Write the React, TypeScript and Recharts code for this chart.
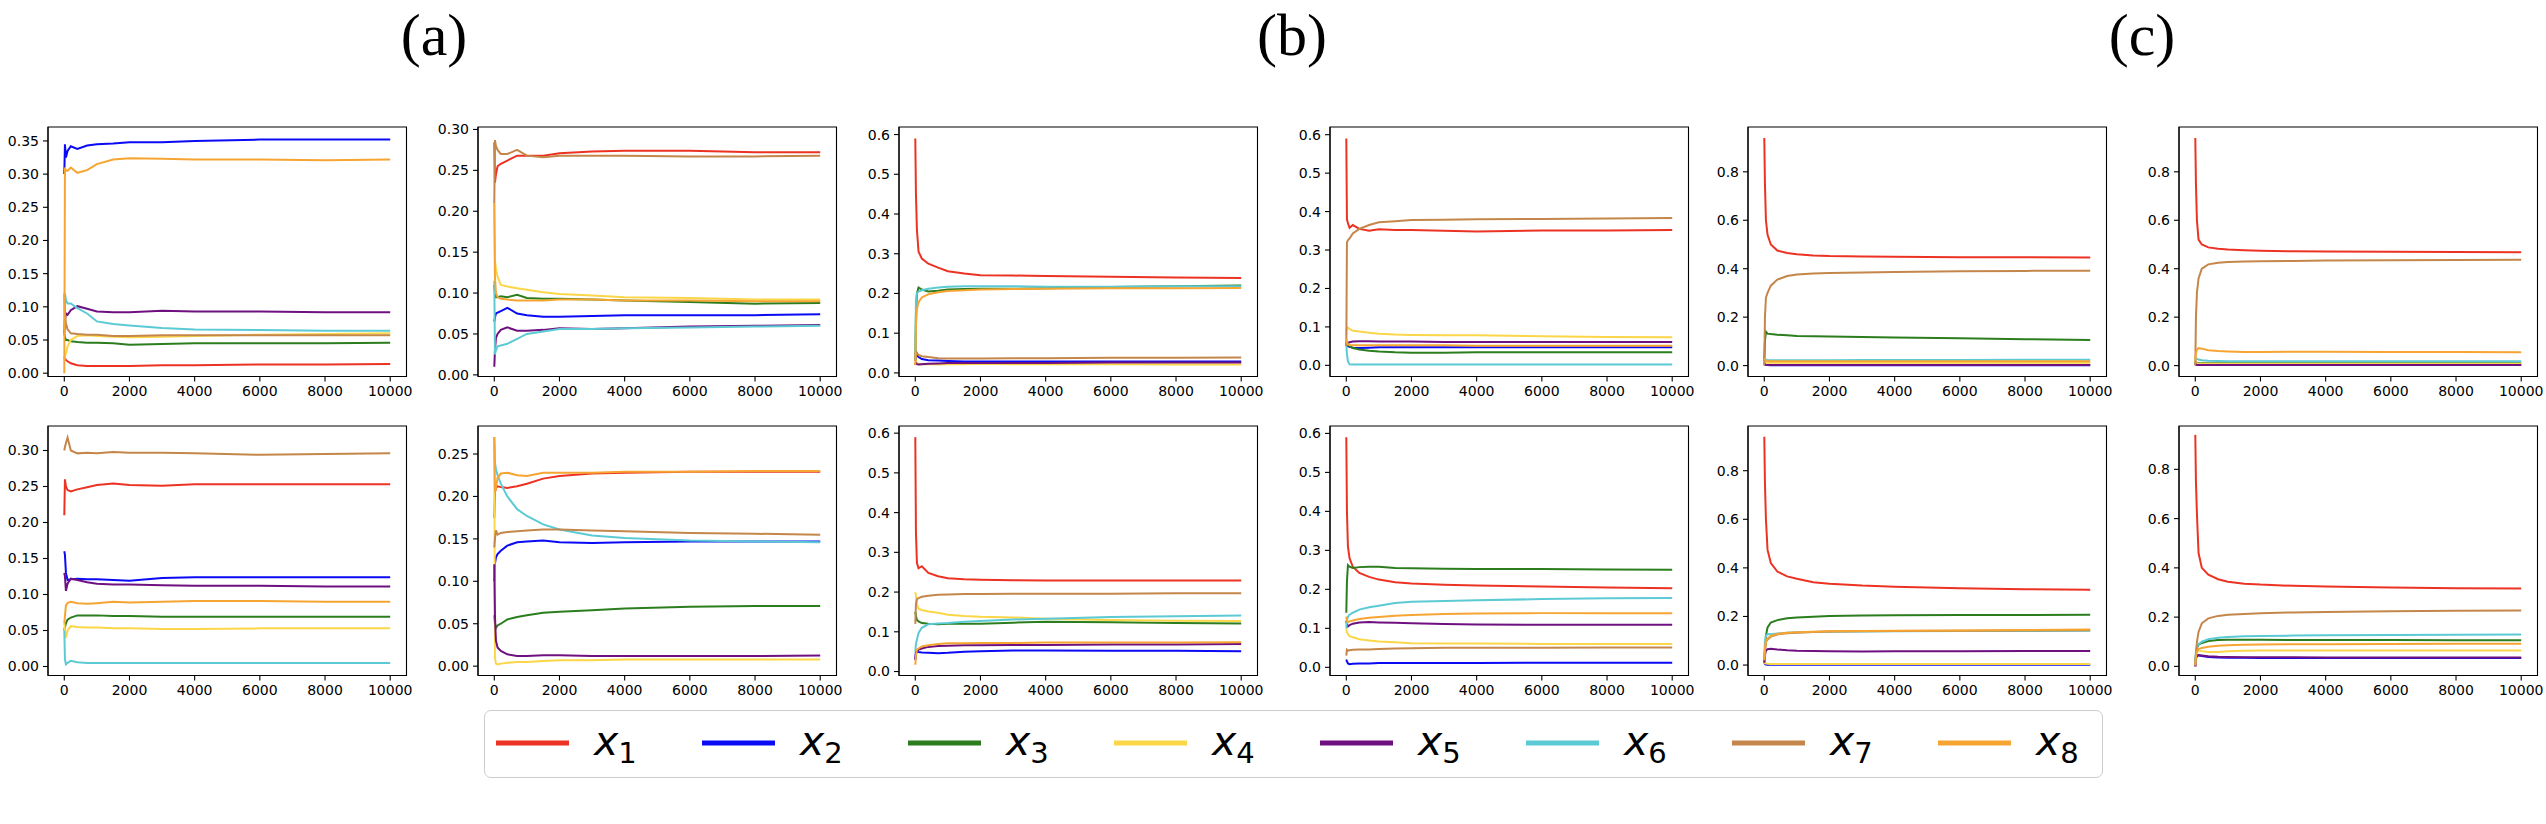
import React from 'react';
import { LineChart, Line, XAxis, YAxis, ReferenceArea } from 'recharts';

// iteration grid shared by every panel
const ITER = [0, 20, 50, 100, 200, 400, 700, 1000, 1500, 2000, 3000, 4000, 6000, 8000, 10000];
const X_TICKS = [0, 2000, 4000, 6000, 8000, 10000];

const SERIES_NAMES = ['x1', 'x2', 'x3', 'x4', 'x5', 'x6', 'x7', 'x8'];
const SUBSCRIPTS = ['1', '2', '3', '4', '5', '6', '7', '8'];
const COLORS = ['#ec3323', '#0a0af5', '#2b7d1e', '#fbd649', '#6e1080', '#5ccad4', '#c4864a', '#f6a533'];

const TICKS_035 = [0, 0.05, 0.1, 0.15, 0.2, 0.25, 0.3, 0.35];
const TICKS_030 = [0, 0.05, 0.1, 0.15, 0.2, 0.25, 0.3];
const TICKS_025 = [0, 0.05, 0.1, 0.15, 0.2, 0.25];
const TICKS_06 = [0, 0.1, 0.2, 0.3, 0.4, 0.5, 0.6];
const TICKS_08 = [0, 0.2, 0.4, 0.6, 0.8];

const TITLES = ['(a)', '(b)', '(c)'];

// ---- row 1 ----
const A1 = [
  [0.025, 0.022, 0.020, 0.018, 0.015, 0.012, 0.011, 0.011, 0.011, 0.011, 0.012, 0.012, 0.013, 0.013, 0.014],
  [0.300, 0.345, 0.325, 0.335, 0.342, 0.338, 0.343, 0.345, 0.346, 0.348, 0.348, 0.350, 0.352, 0.352, 0.352],
  [0.060, 0.055, 0.050, 0.050, 0.048, 0.047, 0.046, 0.046, 0.045, 0.043, 0.044, 0.045, 0.045, 0.045, 0.046],
  [0.020, 0.025, 0.030, 0.040, 0.050, 0.056, 0.057, 0.056, 0.055, 0.054, 0.055, 0.056, 0.058, 0.059, 0.060],
  [0.060, 0.080, 0.090, 0.088, 0.095, 0.101, 0.097, 0.093, 0.092, 0.092, 0.094, 0.093, 0.093, 0.092, 0.092],
  [0.070, 0.120, 0.110, 0.105, 0.105, 0.098, 0.090, 0.078, 0.074, 0.072, 0.068, 0.066, 0.065, 0.064, 0.064],
  [0.120, 0.090, 0.075, 0.066, 0.060, 0.059, 0.058, 0.058, 0.056, 0.056, 0.057, 0.057, 0.057, 0.057, 0.057],
  [0.000, 0.310, 0.305, 0.305, 0.310, 0.302, 0.306, 0.315, 0.322, 0.324, 0.323, 0.322, 0.322, 0.321, 0.322],
];

const A2 = [
  [0.284, 0.235, 0.245, 0.255, 0.258, 0.262, 0.268, 0.268, 0.268, 0.271, 0.273, 0.274, 0.274, 0.272, 0.272],
  [0.065, 0.070, 0.075, 0.076, 0.078, 0.082, 0.075, 0.073, 0.071, 0.071, 0.072, 0.073, 0.073, 0.073, 0.074],
  [0.110, 0.100, 0.095, 0.095, 0.096, 0.095, 0.098, 0.094, 0.093, 0.093, 0.092, 0.091, 0.089, 0.087, 0.088],
  [0.210, 0.140, 0.130, 0.120, 0.110, 0.108, 0.106, 0.104, 0.101, 0.099, 0.097, 0.095, 0.094, 0.092, 0.092],
  [0.010, 0.030, 0.045, 0.050, 0.055, 0.058, 0.054, 0.054, 0.055, 0.057, 0.056, 0.057, 0.059, 0.060, 0.061],
  [0.115, 0.025, 0.030, 0.035, 0.036, 0.038, 0.044, 0.050, 0.053, 0.056, 0.056, 0.057, 0.058, 0.059, 0.060],
  [0.210, 0.287, 0.280, 0.275, 0.270, 0.270, 0.275, 0.268, 0.266, 0.268, 0.268, 0.268, 0.267, 0.267, 0.268],
  [0.210, 0.120, 0.100, 0.095, 0.093, 0.092, 0.091, 0.091, 0.091, 0.092, 0.092, 0.091, 0.091, 0.090, 0.090],
];

const B1 = [
  [0.590, 0.450, 0.360, 0.305, 0.288, 0.275, 0.265, 0.256, 0.250, 0.246, 0.245, 0.244, 0.242, 0.240, 0.239],
  [0.030, 0.055, 0.045, 0.040, 0.035, 0.032, 0.031, 0.030, 0.029, 0.029, 0.029, 0.029, 0.029, 0.029, 0.029],
  [0.030, 0.150, 0.200, 0.215, 0.210, 0.205, 0.207, 0.210, 0.211, 0.212, 0.212, 0.213, 0.216, 0.218, 0.220],
  [0.020, 0.030, 0.025, 0.023, 0.022, 0.022, 0.021, 0.022, 0.022, 0.023, 0.022, 0.022, 0.022, 0.021, 0.021],
  [0.020, 0.025, 0.022, 0.021, 0.022, 0.023, 0.024, 0.025, 0.025, 0.025, 0.025, 0.025, 0.026, 0.026, 0.026],
  [0.030, 0.180, 0.200, 0.205, 0.208, 0.212, 0.215, 0.217, 0.218, 0.218, 0.218, 0.217, 0.217, 0.218, 0.218],
  [0.030, 0.045, 0.050, 0.045, 0.042, 0.040, 0.037, 0.036, 0.036, 0.036, 0.037, 0.037, 0.038, 0.038, 0.039],
  [0.020, 0.120, 0.160, 0.178, 0.190, 0.198, 0.203, 0.206, 0.208, 0.210, 0.211, 0.212, 0.213, 0.213, 0.214],
];

const B2 = [
  [0.590, 0.380, 0.370, 0.358, 0.365, 0.355, 0.350, 0.354, 0.352, 0.352, 0.350, 0.348, 0.351, 0.351, 0.352],
  [0.060, 0.055, 0.050, 0.048, 0.046, 0.045, 0.046, 0.047, 0.047, 0.047, 0.047, 0.047, 0.047, 0.047, 0.047],
  [0.050, 0.060, 0.055, 0.050, 0.045, 0.041, 0.038, 0.036, 0.034, 0.033, 0.033, 0.034, 0.034, 0.034, 0.034],
  [0.080, 0.100, 0.098, 0.095, 0.090, 0.088, 0.085, 0.082, 0.080, 0.079, 0.078, 0.078, 0.076, 0.074, 0.073],
  [0.050, 0.055, 0.058, 0.060, 0.062, 0.063, 0.063, 0.062, 0.062, 0.062, 0.061, 0.061, 0.061, 0.061, 0.061],
  [0.055, 0.030, 0.010, 0.003, 0.002, 0.002, 0.002, 0.002, 0.002, 0.002, 0.002, 0.002, 0.002, 0.002, 0.002],
  [0.050, 0.320, 0.325, 0.330, 0.343, 0.355, 0.365, 0.372, 0.375, 0.378, 0.379, 0.380, 0.381, 0.382, 0.383],
  [0.070, 0.060, 0.055, 0.053, 0.052, 0.052, 0.052, 0.052, 0.052, 0.052, 0.052, 0.051, 0.051, 0.051, 0.051],
];

const C1 = [
  [0.940, 0.750, 0.600, 0.540, 0.500, 0.475, 0.465, 0.460, 0.455, 0.452, 0.450, 0.449, 0.447, 0.447, 0.446],
  [0.010, 0.005, 0.003, 0.002, 0.001, 0.001, 0.001, 0.001, 0.001, 0.001, 0.001, 0.001, 0.001, 0.001, 0.001],
  [0.020, 0.100, 0.140, 0.132, 0.130, 0.127, 0.125, 0.122, 0.121, 0.120, 0.118, 0.116, 0.113, 0.109, 0.106],
  [0.020, 0.015, 0.013, 0.012, 0.012, 0.012, 0.012, 0.012, 0.012, 0.012, 0.012, 0.012, 0.012, 0.012, 0.012],
  [0.010, 0.005, 0.003, 0.002, 0.002, 0.002, 0.002, 0.002, 0.002, 0.002, 0.002, 0.002, 0.002, 0.002, 0.002],
  [0.020, 0.030, 0.025, 0.022, 0.022, 0.022, 0.022, 0.022, 0.022, 0.022, 0.023, 0.023, 0.023, 0.024, 0.024],
  [0.000, 0.200, 0.280, 0.300, 0.330, 0.355, 0.370, 0.376, 0.380, 0.382, 0.384, 0.386, 0.389, 0.391, 0.392],
  [0.030, 0.025, 0.020, 0.019, 0.018, 0.018, 0.018, 0.018, 0.018, 0.018, 0.018, 0.018, 0.018, 0.018, 0.018],
];

const C2 = [
  [0.940, 0.750, 0.600, 0.520, 0.500, 0.488, 0.482, 0.479, 0.476, 0.474, 0.472, 0.471, 0.470, 0.469, 0.468],
  [0.010, 0.005, 0.003, 0.003, 0.003, 0.003, 0.003, 0.003, 0.003, 0.003, 0.003, 0.003, 0.003, 0.003, 0.003],
  [0.020, 0.015, 0.012, 0.011, 0.010, 0.010, 0.010, 0.010, 0.010, 0.010, 0.010, 0.010, 0.010, 0.010, 0.010],
  [0.020, 0.012, 0.010, 0.008, 0.008, 0.008, 0.008, 0.008, 0.008, 0.008, 0.008, 0.008, 0.008, 0.008, 0.008],
  [0.010, 0.004, 0.002, 0.002, 0.002, 0.002, 0.002, 0.002, 0.002, 0.002, 0.002, 0.002, 0.002, 0.002, 0.002],
  [0.030, 0.030, 0.028, 0.025, 0.022, 0.020, 0.019, 0.018, 0.018, 0.018, 0.018, 0.018, 0.018, 0.018, 0.018],
  [0.000, 0.200, 0.300, 0.360, 0.400, 0.418, 0.425, 0.428, 0.430, 0.431, 0.432, 0.434, 0.435, 0.436, 0.437],
  [0.020, 0.050, 0.065, 0.072, 0.070, 0.063, 0.060, 0.058, 0.056, 0.056, 0.057, 0.057, 0.056, 0.056, 0.055],
];

// ---- row 2 ----
const A3 = [
  [0.210, 0.260, 0.250, 0.245, 0.243, 0.246, 0.249, 0.252, 0.254, 0.252, 0.251, 0.253, 0.253, 0.253, 0.253],
  [0.160, 0.155, 0.130, 0.120, 0.121, 0.122, 0.121, 0.121, 0.120, 0.119, 0.123, 0.124, 0.124, 0.124, 0.124],
  [0.050, 0.055, 0.060, 0.065, 0.068, 0.071, 0.071, 0.071, 0.070, 0.070, 0.069, 0.069, 0.069, 0.069, 0.069],
  [0.060, 0.050, 0.040, 0.050, 0.056, 0.055, 0.054, 0.054, 0.053, 0.053, 0.052, 0.052, 0.053, 0.053, 0.053],
  [0.130, 0.125, 0.105, 0.115, 0.122, 0.120, 0.117, 0.115, 0.114, 0.114, 0.113, 0.112, 0.112, 0.111, 0.111],
  [0.050, 0.010, 0.003, 0.005, 0.008, 0.006, 0.005, 0.005, 0.005, 0.005, 0.005, 0.005, 0.005, 0.005, 0.005],
  [0.300, 0.305, 0.310, 0.318, 0.300, 0.296, 0.297, 0.296, 0.298, 0.297, 0.297, 0.296, 0.294, 0.295, 0.296],
  [0.060, 0.070, 0.085, 0.088, 0.090, 0.088, 0.087, 0.088, 0.090, 0.089, 0.090, 0.091, 0.091, 0.090, 0.090],
];

const A4 = [
  [0.175, 0.205, 0.210, 0.212, 0.211, 0.210, 0.212, 0.215, 0.221, 0.224, 0.227, 0.228, 0.229, 0.229, 0.229],
  [0.100, 0.121, 0.128, 0.132, 0.136, 0.142, 0.146, 0.147, 0.148, 0.146, 0.145, 0.146, 0.147, 0.147, 0.147],
  [0.060, 0.050, 0.045, 0.048, 0.050, 0.055, 0.058, 0.060, 0.063, 0.064, 0.066, 0.068, 0.070, 0.071, 0.071],
  [0.260, 0.010, 0.003, 0.002, 0.003, 0.004, 0.005, 0.005, 0.006, 0.007, 0.007, 0.008, 0.008, 0.008, 0.008],
  [0.120, 0.060, 0.030, 0.022, 0.018, 0.014, 0.012, 0.012, 0.013, 0.013, 0.012, 0.012, 0.012, 0.012, 0.0125],
  [0.270, 0.240, 0.232, 0.225, 0.215, 0.200, 0.185, 0.177, 0.167, 0.161, 0.154, 0.151, 0.148, 0.147, 0.146],
  [0.140, 0.150, 0.160, 0.155, 0.157, 0.158, 0.159, 0.160, 0.161, 0.161, 0.160, 0.159, 0.157, 0.156, 0.155],
  [0.270, 0.205, 0.210, 0.222, 0.227, 0.228, 0.225, 0.224, 0.228, 0.228, 0.228, 0.229, 0.229, 0.230, 0.230],
];

const B3 = [
  [0.590, 0.350, 0.273, 0.260, 0.265, 0.248, 0.240, 0.235, 0.232, 0.231, 0.230, 0.229, 0.229, 0.229, 0.229],
  [0.030, 0.052, 0.050, 0.049, 0.048, 0.047, 0.046, 0.047, 0.050, 0.051, 0.053, 0.053, 0.052, 0.052, 0.051],
  [0.150, 0.140, 0.130, 0.126, 0.122, 0.120, 0.119, 0.120, 0.120, 0.120, 0.123, 0.125, 0.124, 0.122, 0.121],
  [0.200, 0.190, 0.170, 0.158, 0.155, 0.151, 0.148, 0.143, 0.140, 0.138, 0.136, 0.133, 0.130, 0.128, 0.127],
  [0.030, 0.045, 0.050, 0.055, 0.058, 0.062, 0.064, 0.065, 0.066, 0.066, 0.067, 0.067, 0.068, 0.068, 0.069],
  [0.050, 0.070, 0.080, 0.097, 0.110, 0.119, 0.121, 0.122, 0.125, 0.127, 0.131, 0.133, 0.137, 0.139, 0.141],
  [0.120, 0.170, 0.182, 0.185, 0.188, 0.191, 0.193, 0.194, 0.195, 0.195, 0.196, 0.196, 0.196, 0.197, 0.197],
  [0.017, 0.040, 0.055, 0.058, 0.063, 0.066, 0.069, 0.071, 0.071, 0.072, 0.072, 0.073, 0.073, 0.073, 0.074],
];

const B4 = [
  [0.590, 0.400, 0.310, 0.280, 0.258, 0.242, 0.232, 0.225, 0.218, 0.215, 0.212, 0.210, 0.207, 0.205, 0.203],
  [0.020, 0.015, 0.010, 0.008, 0.009, 0.010, 0.010, 0.011, 0.011, 0.011, 0.011, 0.011, 0.012, 0.012, 0.012],
  [0.140, 0.220, 0.262, 0.258, 0.255, 0.257, 0.258, 0.258, 0.255, 0.254, 0.253, 0.252, 0.252, 0.251, 0.250],
  [0.100, 0.090, 0.085, 0.080, 0.077, 0.072, 0.069, 0.066, 0.064, 0.062, 0.061, 0.061, 0.060, 0.060, 0.060],
  [0.120, 0.110, 0.105, 0.108, 0.112, 0.115, 0.116, 0.115, 0.114, 0.113, 0.111, 0.110, 0.109, 0.109, 0.109],
  [0.100, 0.120, 0.130, 0.135, 0.140, 0.148, 0.154, 0.158, 0.165, 0.168, 0.170, 0.172, 0.175, 0.177, 0.178],
  [0.030, 0.045, 0.043, 0.044, 0.045, 0.046, 0.046, 0.047, 0.048, 0.049, 0.050, 0.050, 0.050, 0.051, 0.051],
  [0.130, 0.120, 0.115, 0.118, 0.120, 0.124, 0.127, 0.129, 0.132, 0.134, 0.137, 0.138, 0.139, 0.139, 0.139],
];

const C3 = [
  [0.940, 0.750, 0.600, 0.474, 0.420, 0.385, 0.365, 0.355, 0.341, 0.335, 0.327, 0.322, 0.316, 0.312, 0.310],
  [0.010, 0.005, 0.002, 0.001, 0.001, 0.001, 0.001, 0.001, 0.001, 0.001, 0.001, 0.001, 0.001, 0.001, 0.001],
  [0.010, 0.050, 0.120, 0.155, 0.175, 0.185, 0.193, 0.196, 0.199, 0.202, 0.204, 0.205, 0.206, 0.206, 0.207],
  [0.010, 0.008, 0.006, 0.005, 0.004, 0.004, 0.004, 0.004, 0.004, 0.004, 0.004, 0.004, 0.004, 0.004, 0.004],
  [0.010, 0.040, 0.060, 0.065, 0.067, 0.064, 0.061, 0.059, 0.058, 0.057, 0.056, 0.057, 0.057, 0.058, 0.058],
  [0.030, 0.100, 0.120, 0.128, 0.127, 0.130, 0.133, 0.135, 0.136, 0.137, 0.138, 0.139, 0.140, 0.140, 0.141],
  [0.020, 0.060, 0.095, 0.105, 0.117, 0.126, 0.131, 0.133, 0.136, 0.138, 0.139, 0.140, 0.141, 0.142, 0.143],
  [0.020, 0.070, 0.100, 0.110, 0.120, 0.128, 0.133, 0.135, 0.137, 0.139, 0.140, 0.141, 0.142, 0.144, 0.146],
];

const C4 = [
  [0.940, 0.750, 0.620, 0.460, 0.400, 0.372, 0.354, 0.344, 0.336, 0.332, 0.327, 0.324, 0.320, 0.317, 0.316],
  [0.000, 0.040, 0.045, 0.045, 0.042, 0.038, 0.036, 0.035, 0.035, 0.034, 0.034, 0.034, 0.034, 0.034, 0.034],
  [0.010, 0.050, 0.075, 0.088, 0.095, 0.103, 0.107, 0.108, 0.108, 0.108, 0.107, 0.107, 0.107, 0.106, 0.106],
  [0.005, 0.040, 0.060, 0.065, 0.062, 0.058, 0.058, 0.061, 0.063, 0.064, 0.064, 0.064, 0.064, 0.064, 0.064],
  [0.000, 0.030, 0.042, 0.045, 0.044, 0.041, 0.039, 0.038, 0.037, 0.037, 0.037, 0.036, 0.036, 0.036, 0.036],
  [0.010, 0.060, 0.080, 0.090, 0.100, 0.110, 0.116, 0.119, 0.122, 0.123, 0.125, 0.126, 0.127, 0.128, 0.129],
  [0.000, 0.050, 0.100, 0.140, 0.175, 0.195, 0.205, 0.210, 0.213, 0.216, 0.219, 0.221, 0.224, 0.226, 0.227],
  [0.005, 0.040, 0.060, 0.070, 0.075, 0.080, 0.084, 0.086, 0.088, 0.089, 0.090, 0.090, 0.091, 0.092, 0.092],
];

// layout (pixels) — not data
const COL_LEFT = [48, 478, 899, 1330, 1748, 2179];
const ROW_TOP = [127, 426];
const PLOT_W = 358.5;
const PLOT_H = 249.5;
const PAD_L = 62;
const PAD_T = 8;
const PAD_R = 12;
const PAD_B = 34;

const PANELS = [
  { row: 0, col: 0, series: A1, domain: [-0.005, 0.371], ticks: TICKS_035, dec: 2 },
  { row: 0, col: 1, series: A2, domain: [-0.002, 0.303], ticks: TICKS_030, dec: 2 },
  { row: 0, col: 2, series: B1, domain: [-0.009, 0.619], ticks: TICKS_06, dec: 1 },
  { row: 0, col: 3, series: B2, domain: [-0.029, 0.62], ticks: TICKS_06, dec: 1 },
  { row: 0, col: 4, series: C1, domain: [-0.045, 0.985], ticks: TICKS_08, dec: 1 },
  { row: 0, col: 5, series: C2, domain: [-0.045, 0.985], ticks: TICKS_08, dec: 1 },
  { row: 1, col: 0, series: A3, domain: [-0.0125, 0.334], ticks: TICKS_030, dec: 2 },
  { row: 1, col: 1, series: A4, domain: [-0.011, 0.283], ticks: TICKS_025, dec: 2 },
  { row: 1, col: 2, series: B3, domain: [-0.01, 0.618], ticks: TICKS_06, dec: 1 },
  { row: 1, col: 3, series: B4, domain: [-0.021, 0.619], ticks: TICKS_06, dec: 1 },
  { row: 1, col: 4, series: C3, domain: [-0.043, 0.984], ticks: TICKS_08, dec: 1 },
  { row: 1, col: 5, series: C4, domain: [-0.037, 0.976], ticks: TICKS_08, dec: 1 },
];

const TICK_STYLE = { fill: '#000', fontSize: 14, fontFamily: 'DejaVu Sans' };

function Panel({ cfg }: { cfg: any }) {
  const data = ITER.map((it, i) => {
    const row: any = { it };
    cfg.series.forEach((s: number[], k: number) => {
      row[SERIES_NAMES[k]] = s[i];
    });
    return row;
  });
  const left = COL_LEFT[cfg.col] - PAD_L;
  const top = ROW_TOP[cfg.row] - PAD_T;
  return (
    <div style={{ position: 'absolute', left, top }}>
      <LineChart
        width={PLOT_W + PAD_L + PAD_R}
        height={PLOT_H + PAD_T + PAD_B}
        data={data}
        margin={{ top: PAD_T, right: PAD_R, bottom: 0, left: 0 }}
      >
        <XAxis
          dataKey="it"
          type="number"
          domain={[-500, 10500]}
          ticks={X_TICKS}
          allowDataOverflow
          height={PAD_B}
          tickSize={5}
          tickMargin={5}
          stroke="#000"
          tick={TICK_STYLE}
          tickLine={{ stroke: '#000', strokeWidth: 1.1 }}
          axisLine={{ stroke: '#000', strokeWidth: 1.1 }}
        />
        <YAxis
          type="number"
          domain={cfg.domain}
          ticks={cfg.ticks}
          allowDataOverflow
          width={PAD_L}
          tickSize={5}
          tickMargin={4}
          stroke="#000"
          tick={TICK_STYLE}
          tickLine={{ stroke: '#000', strokeWidth: 1.1 }}
          axisLine={{ stroke: '#000', strokeWidth: 1.1 }}
          tickFormatter={(v: number) => v.toFixed(cfg.dec)}
        />
        {SERIES_NAMES.map((name, k) => (
          <Line
            key={name}
            dataKey={name}
            type="linear"
            stroke={COLORS[k]}
            strokeWidth={2}
            dot={false}
            isAnimationActive={false}
          />
        ))}
        <ReferenceArea
          x1={-500}
          x2={10500}
          y1={cfg.domain[0]}
          y2={cfg.domain[1]}
          fill="none"
          fillOpacity={0}
          stroke="#000"
          strokeWidth={1.1}
          ifOverflow="visible"
        />
      </LineChart>
    </div>
  );
}

const TITLE_X = [434, 1292, 2142];

function Legend() {
  const pitch = 206;
  return (
    <div
      style={{
        position: 'absolute',
        left: 484,
        top: 710,
        width: 1619,
        height: 68,
        border: '1.5px solid #cccccc',
        borderRadius: 7,
        boxSizing: 'border-box',
        background: '#fff',
      }}
    >
      <svg width={1616} height={65} style={{ position: 'absolute', left: 0, top: 0 }}>
        {SERIES_NAMES.map((name, k) => (
          <g key={name}>
            <line
              x1={11 + k * pitch}
              x2={84 + k * pitch}
              y1={32}
              y2={32}
              stroke={COLORS[k]}
              strokeWidth={5}
            />
            <text x={109 + k * pitch} y={44} fontFamily="DejaVu Sans" fontSize={41} fill="#000">
              <tspan fontStyle="italic">x</tspan>
              <tspan fontSize={29} dy={8}>{SUBSCRIPTS[k]}</tspan>
            </text>
          </g>
        ))}
      </svg>
    </div>
  );
}

export default function App() {
  return (
    <div
      style={{
        position: 'absolute',
        left: 0,
        top: 0,
        width: 2546,
        height: 824,
        background: '#fff',
        overflow: 'hidden',
      }}
    >
      <svg width={2546} height={100} style={{ position: 'absolute', left: 0, top: 0 }}>
        {TITLES.map((t, i) => (
          <text
            key={t}
            x={TITLE_X[i]}
            y={55}
            textAnchor="middle"
            fontFamily="Liberation Serif"
            fontSize={60}
            fill="#000"
          >
            {t}
          </text>
        ))}
      </svg>
      {PANELS.map((cfg, i) => (
        <Panel key={i} cfg={cfg} />
      ))}
      <Legend />
    </div>
  );
}
